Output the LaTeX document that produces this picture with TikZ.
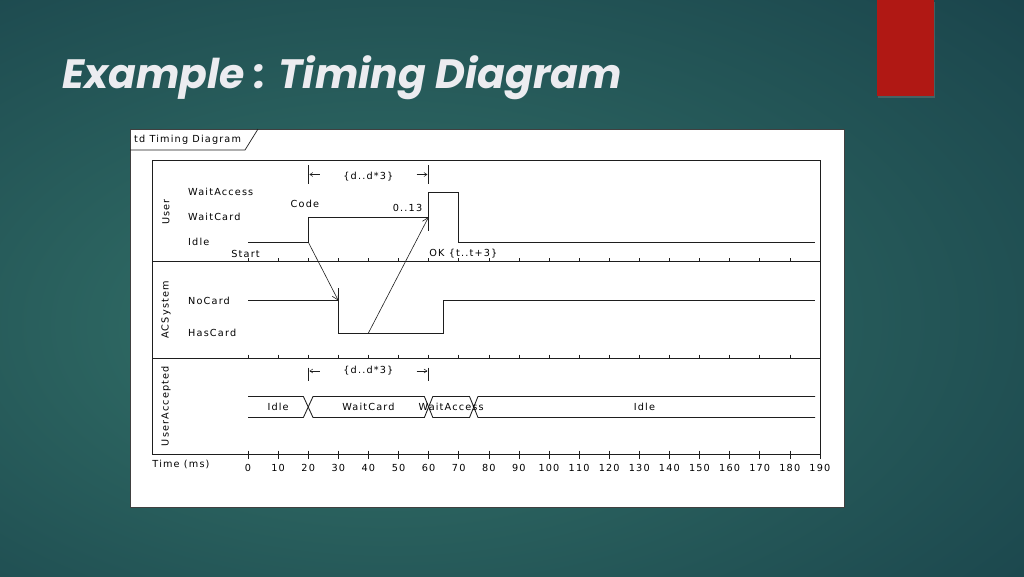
\documentclass[tikz,border=0pt]{standalone}
\usepackage{fontspec}
\newfontfamily\titlefont{Poppins}
\newfontfamily\umlfont[LetterSpace=12]{DejaVu Sans}
\usetikzlibrary{arrows.meta,positioning,shadows}

\definecolor{bgdark}{RGB}{16,50,64}
\definecolor{bglight}{RGB}{48,108,101}
\definecolor{accentred}{RGB}{176,24,20}
\definecolor{titlegray}{RGB}{236,236,240}
\definecolor{inkgray}{RGB}{30,30,30}
\pgfdeclareradialshading{slidebg}{\pgfpoint{-8bp}{-4bp}}{color(0bp)=(bglight); color(12bp)=(bglight!88!bgdark); color(36bp)=(bglight!40!bgdark); color(54bp)=(bgdark); color(80bp)=(bgdark)}

\begin{document}
\begin{tikzpicture}[x=1pt, y=-1pt,
    every node/.style={font=\umlfont\fontsize{9.7}{11}\selectfont, text=black, inner sep=0pt},
    frame/.style={draw=inkgray, line width=0.7pt},
    wave/.style={draw=inkgray, line width=0.85pt},
    msg/.style={draw=inkgray, line width=0.6pt, -{Straight Barb[length=6pt,width=7pt]}},
    bound/.style={draw=inkgray, line width=0.5pt, -{Straight Barb[length=3pt,width=4pt]}},
    tick/.style={draw=inkgray, line width=0.6pt},
    lane/.style={rotate=90},
    state/.style={anchor=west},
    ]
  \useasboundingbox (0,0) rectangle (1024,576);
  \shade[shading=slidebg] (0,0) rectangle (1024,576);
  \fill[accentred, drop shadow={opacity=0.4, shadow xshift=1pt, shadow yshift=-1.5pt}] (877,0) rectangle (934,96);
  \node[anchor=base west, font=\titlefont\bfseries\itshape\fontsize{41}{48}\selectfont, text=titlegray] (title) at (62,88) {Example : Timing Diagram};

  \draw[fill=white, draw=black!75, line width=0.7pt] (130,129) rectangle (844,507);
  \draw[frame] (130,150) -- (245,150) -- (258,129);
  \node[anchor=west] (tdname) at (134,140) {td Timing Diagram};
  \draw[frame] (152.5,160.5) rectangle (820,454.5);
  \draw[frame] (152.5,261.5) -- (820,261.5);
  \draw[frame] (152.5,358) -- (820,358);

  \node[lane] (user) at (166,212) {User};
  \node[lane] (acsys) at (166,310) {ACSystem};
  \node[lane] (useracc) at (166,406) {UserAccepted};
  \node[state] (waitaccess) at (188,192) {WaitAccess};
  \node[state] (waitcard) at (188,217) {WaitCard};
  \node[state] (idle) at (188,242) {Idle};
  \node[state] (nocard) at (188,300.5) {NoCard};
  \node[state] (hascard) at (188,333) {HasCard};
  \node (timeunit) at (181,464) {Time (ms)};

  \begin{scope}[shift={(248pt,0pt)}, x=3.01pt]
    \foreach \t in {0,10,...,190} {
      \draw[tick] (\t,258) -- (\t,261.5);
      \draw[tick] (\t,354.5) -- (\t,358);
      \draw[tick] (\t,450.5) -- (\t,459);
      \node[anchor=base] (t\t) at (\t,471) {\t};
    }

    \draw[wave] (0,242) -- (20,242) -- (20,217) -- (60,217) -- (60,192) -- (70,192) -- (70,242) -- (188.4,242);
    \draw[wave] (60,217) -- (60,231);
    \draw[wave] (0,300.5) -- (30,300.5) -- (30,333) -- (65,333) -- (65,300.5) -- (188.4,300.5);
    \draw[wave] (30,300.5) -- (30,288);

    \draw[wave] (0,396.5) -- (18.4,396.5) -- (21.6,417.5) -- (58.6,417.5) -- (61.4,396.5) -- (73.6,396.5) -- (76.4,417.5) -- (188.4,417.5);
    \draw[wave] (0,417.5) -- (18.4,417.5) -- (21.6,396.5) -- (58.6,396.5) -- (61.4,417.5) -- (73.6,417.5) -- (76.4,396.5) -- (188.4,396.5);
    \node (uaidle) at (10,407) {Idle};
    \node (uawaitcard) at (40,407) {WaitCard};
    \node (uawaitaccess) at (67.5,407) {WaitAccess};
    \node (uaidleend) at (131.7,407) {Idle};

    \node (code) at (18.9,203.5) {Code};
    \node (codecount) at (53,208) {0..13};
    \node (start) at (-0.8,254) {Start};
    \node[anchor=west] (okwindow) at (60.2,254) {OK \{t..t+3\}};

    \coordinate (codesent) at (20,242);
    \coordinate (cardin) at (30,300.5);
    \coordinate (cardread) at (40,333);
    \coordinate (accessreq) at (60,217);
    \draw[msg] (codesent) -- (cardin);
    \draw[msg] (cardread) -- (accessreq);

    \draw[tick] (20,165) -- (20,184);
    \draw[tick] (60,165) -- (60,184);
    \draw[bound] (23.8,174.5) -- (20.4,174.5);
    \draw[bound] (56,174.5) -- (59.6,174.5);
    \node (userdur) at (40,176.5) {\{d..d*3\}};

    \draw[tick] (20,367.5) -- (20,381);
    \draw[tick] (60,367.5) -- (60,381);
    \draw[bound] (23.8,371) -- (20.4,371);
    \draw[bound] (56,371) -- (59.6,371);
    \node (uadur) at (40,370.5) {\{d..d*3\}};
  \end{scope}
\end{tikzpicture}
\end{document}
